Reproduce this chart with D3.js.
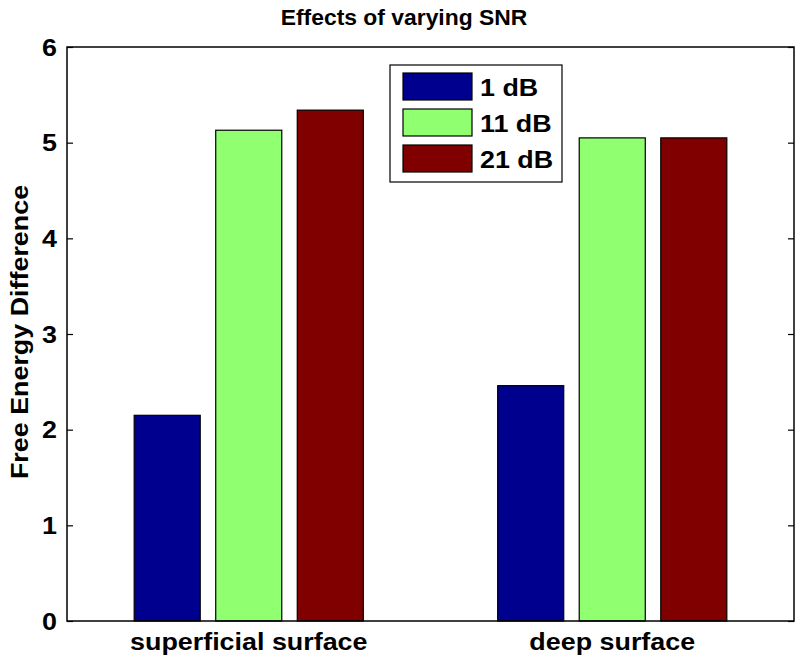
<!DOCTYPE html>
<html><head><meta charset="utf-8">
<script src="https://cdn.jsdelivr.net/npm/d3@7"></script>
<style>body{margin:0;background:#fff}svg{display:block}text{font-family:"Liberation Sans",Arial,sans-serif;font-weight:bold;fill:#000}</style>
</head><body><svg id="c" width="798" height="664"></svg>
<script>
const categories = ["superficial surface", "deep surface"];
const seriesNames = ["1 dB", "11 dB", "21 dB"];
const seriesColors = ["#00008F", "#90FF70", "#800000"];
const values1dB = [2.15, 2.46];
const values11dB = [5.13, 5.05];
const values21dB = [5.34, 5.05];
const yTicks = [0, 1, 2, 3, 4, 5, 6];
const titleText = "Effects of varying SNR";
const yLabel = "Free Energy Difference";

const seriesValues = [values1dB, values11dB, values21dB];
const svg = d3.select("#c");
const L = 67, R = 794, T = 47, B = 621;
const FS = 24, SX = 1.12;

const x0 = d3.scaleBand().domain(categories).range([L, R]).paddingInner(0.327).paddingOuter(0.1635);
const x1 = d3.scaleBand().domain(seriesNames).range([0, x0.bandwidth()]).paddingInner(0.19).paddingOuter(0.095);
const y = d3.scaleLinear().domain([0, 6]).range([B, T]);

// bars
categories.forEach((c, ci) => {
  seriesNames.forEach((s, si) => {
    const v = seriesValues[si][ci];
    svg.append("rect")
      .attr("x", x0(c) + x1(s)).attr("y", y(v))
      .attr("width", x1.bandwidth()).attr("height", y(0) - y(v))
      .attr("fill", seriesColors[si]).attr("stroke", "#000").attr("stroke-width", 1.2);
  });
});

// axes frame
svg.append("rect").attr("x", L).attr("y", T).attr("width", R - L).attr("height", B - T)
  .attr("fill", "none").attr("stroke", "#000").attr("stroke-width", 1.5);

// inward ticks on both sides
const yAxisL = svg.append("g").attr("transform", `translate(${L},0)`)
  .call(d3.axisRight(y).tickValues(yTicks).tickSize(6).tickFormat(""));
yAxisL.select(".domain").remove();
yAxisL.selectAll("line").attr("stroke", "#000").attr("stroke-width", 1.2);
const yAxisR = svg.append("g").attr("transform", `translate(${R},0)`)
  .call(d3.axisLeft(y).tickValues(yTicks).tickSize(6).tickFormat(""));
yAxisR.select(".domain").remove();
yAxisR.selectAll("line").attr("stroke", "#000").attr("stroke-width", 1.2);

// tick labels
svg.append("g").selectAll("text").data(yTicks).join("text")
  .attr("transform", d => `translate(${L - 10},${y(d) + 8.5}) scale(${SX},1)`)
  .attr("text-anchor", "end").attr("font-size", FS).text(d => d);

// category labels
svg.append("g").selectAll("text").data(categories).join("text")
  .attr("transform", d => `translate(${x0(d) + x0.bandwidth() / 2},650) scale(${SX},1)`)
  .attr("text-anchor", "middle").attr("font-size", FS).text(d => d);

// title
svg.append("text").attr("transform", "translate(404,25) scale(1.04,1)").attr("text-anchor", "middle")
  .attr("font-size", 22).text(titleText);

// y label
svg.append("text").attr("transform", `translate(28,${(T + B) / 2 - 2}) rotate(-90) scale(${SX},1)`)
  .attr("text-anchor", "middle").attr("font-size", FS).text(yLabel);

// legend
const lg = svg.append("g");
lg.append("rect").attr("x", 390).attr("y", 65).attr("width", 172).attr("height", 117)
  .attr("fill", "#fff").attr("stroke", "#000").attr("stroke-width", 1.2);
seriesNames.forEach((s, i) => {
  lg.append("rect").attr("x", 403).attr("y", 73 + i * 36).attr("width", 69).attr("height", 27)
    .attr("fill", seriesColors[i]).attr("stroke", "#000").attr("stroke-width", 1.2);
  lg.append("text").attr("transform", `translate(480,${96 + i * 36}) scale(${SX},1)`)
    .attr("font-size", FS).text(s);
});
</script></body></html>
